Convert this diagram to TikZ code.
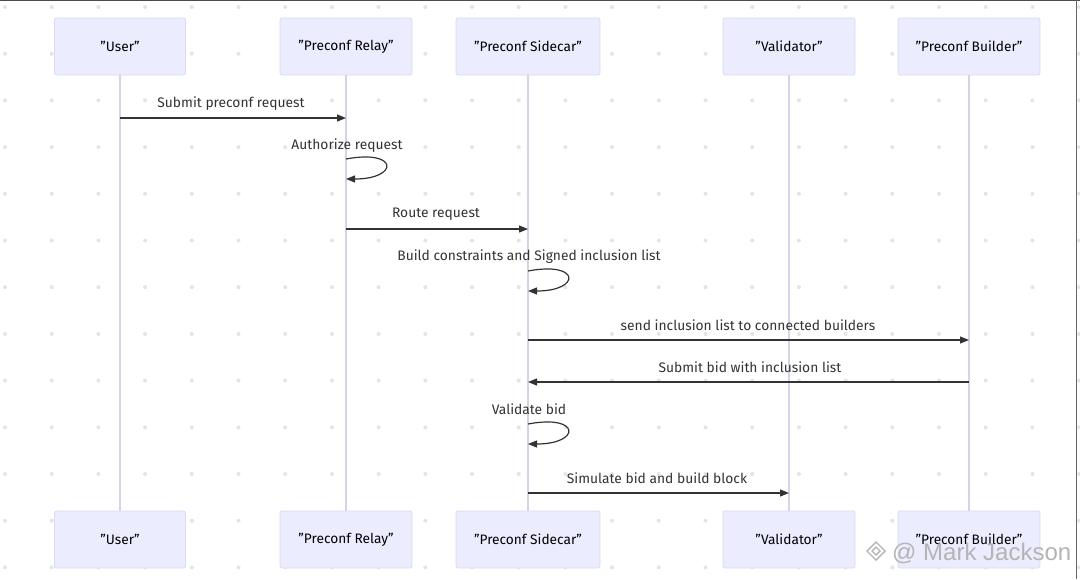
\documentclass[tikz,border=0pt]{standalone}
\usepackage{fontspec}
\setmainfont{Fira Sans}
\newfontfamily\wmfont{Liberation Sans}
\usetikzlibrary{arrows.meta}
\definecolor{boxfill}{HTML}{ECECFF}
\definecolor{boxline}{HTML}{DADAF2}
\definecolor{lifeline}{HTML}{D4D4E6}
\definecolor{msgcol}{HTML}{333333}
\definecolor{dotcol}{HTML}{E4E4E4}
\definecolor{wmcol}{HTML}{B4B4B4}
\newcommand\qq{\symbol{34}}
\tikzset{
  actor/.style={draw=boxline, line width=0.8pt, fill=boxfill, rounded corners=2pt,
    minimum height=57pt, inner sep=0pt, font=\fontsize{13.7}{16}\selectfont, text=black},
  life/.style={draw=lifeline, line width=1.2pt},
  msg/.style={draw=msgcol, line width=1.2pt, -{Triangle[length=9pt,width=7pt]}},
  lbl/.style={font=\fontsize{13.8}{16}\selectfont, text=msgcol, inner sep=0pt},
}
\begin{document}
\begin{tikzpicture}[x=1pt,y=-1pt]
\useasboundingbox (0,0) rectangle (1080,579);
\fill[white] (0,0) rectangle (1080,579);
% dotted background
\foreach \i in {0,...,23}{
  \foreach \j in {0,...,12}{
    \fill[dotcol] ({5+46.7*\i},{7+46.7*\j}) circle (2pt);
  }
}
% top actors
\node[actor, minimum width=131pt] (u1) at (120,46.5) {\qq User\qq};
\node[actor, minimum width=132pt] (r1) at (346,46.5) {\qq Preconf Relay\qq};
\node[actor, minimum width=144pt] (s1) at (528,46.5) {\qq Preconf Sidecar\qq};
\node[actor, minimum width=132pt] (v1) at (789,46.5) {\qq Validator\qq};
\node[actor, minimum width=142pt] (b1) at (969,46.5) {\qq Preconf Builder\qq};
% bottom actors
\node[actor, minimum width=131pt] (u2) at (120,539.5) {\qq User\qq};
\node[actor, minimum width=132pt] (r2) at (346,539.5) {\qq Preconf Relay\qq};
\node[actor, minimum width=144pt] (s2) at (528,539.5) {\qq Preconf Sidecar\qq};
\node[actor, minimum width=132pt] (v2) at (789,539.5) {\qq Validator\qq};
\node[actor, minimum width=142pt] (b2) at (969,539.5) {\qq Preconf Builder\qq};
% lifelines
\draw[life] (u1.south) -- (u2.north);
\draw[life] (r1.south) -- (r2.north);
\draw[life] (s1.south) -- (s2.north);
\draw[life] (v1.south) -- (v2.north);
\draw[life] (b1.south) -- (b2.north);
% anchor coordinates on lifelines
\coordinate (m1a) at (u1.south |- 0,118);
\coordinate (m1b) at (r1.south |- 0,118);
\coordinate (l1a) at (r1.south |- 0,159);
\coordinate (l1b) at (r1.south |- 0,179);
\coordinate (m3a) at (r1.south |- 0,229);
\coordinate (m3b) at (s1.south |- 0,229);
\coordinate (l2a) at (s1.south |- 0,271);
\coordinate (l2b) at (s1.south |- 0,291);
\coordinate (m5a) at (s1.south |- 0,340);
\coordinate (m5b) at (b1.south |- 0,340);
\coordinate (m6a) at (b1.south |- 0,382);
\coordinate (m6b) at (s1.south |- 0,382);
\coordinate (l3a) at (s1.south |- 0,424);
\coordinate (l3b) at (s1.south |- 0,444);
\coordinate (m8a) at (s1.south |- 0,493);
\coordinate (m8b) at (v1.south |- 0,493);
% messages
\draw[msg] (m1a) -- (m1b);
\node[lbl] (t1) at (231,103.5) {Submit preconf request};
\draw[msg] (l1a) .. controls ++(53,-10) and ++(53,0) .. (l1b);
\node[lbl] (t2) at (347,145.5) {Authorize request};
\draw[msg] (m3a) -- (m3b);
\node[lbl] (t3) at (436,214.5) {Route request};
\draw[msg] (l2a) .. controls ++(53,-10) and ++(53,0) .. (l2b);
\node[lbl] (t4) at (529,256.5) {Build constraints and Signed inclusion list};
\draw[msg] (m5a) -- (m5b);
\node[lbl] (t5) at (748,325.5) {send inclusion list to connected builders};
\draw[msg] (m6a) -- (m6b);
\node[lbl] (t6) at (750,367.5) {Submit bid with inclusion list};
\draw[msg] (l3a) .. controls ++(53,-10) and ++(53,0) .. (l3b);
\node[lbl] (t7) at (529,409.5) {Validate bid};
\draw[msg] (m8a) -- (m8b);
\node[lbl] (t8) at (657,478.5) {Simulate bid and build block};
% frame edges
\draw[black!70, line width=1.5pt] (0,0.5) -- (1080,0.5);
\draw[black!60, line width=1pt] (1076.5,0) -- (1076.5,579);
% watermark
\begin{scope}[wmcol, line width=1.4pt]
  \draw (876,542) -- (885,551) -- (876,560) -- (867,551) -- cycle;
  \draw (876,547) -- (880,551) -- (876,555) -- (872,551) -- cycle;
\end{scope}
\node[anchor=west, inner sep=0pt, text=wmcol, font=\wmfont\fontsize{24}{26}\selectfont] (wm) at (892,553) {@ Mark Jackson};
\end{tikzpicture}
\end{document}
